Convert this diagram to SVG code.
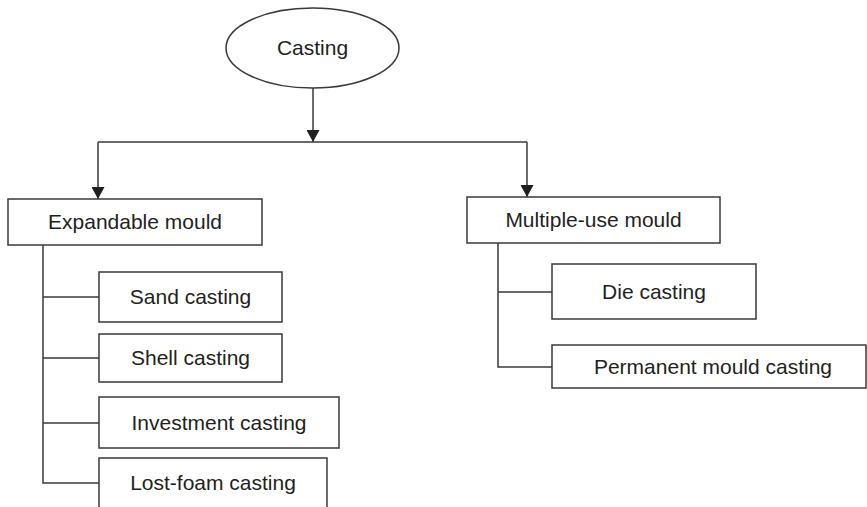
<svg xmlns="http://www.w3.org/2000/svg" width="867" height="507" viewBox="0 0 867 507">
<defs>
<marker id="arr" viewBox="0 0 12 13" refX="12" refY="6.5" markerWidth="12" markerHeight="13" markerUnits="userSpaceOnUse" orient="auto">
<path d="M0,0 L12,6.5 L0,13 Z" fill="#231f20"/>
</marker>
<style>
.box{fill:#fff;stroke:#3a3a3a;stroke-width:1.5}
.ln{fill:none;stroke:#3a3a3a;stroke-width:1.5}
.t{font-family:"Liberation Sans",Arial,sans-serif;font-size:21px;fill:#231f20;text-anchor:middle}
</style>
</defs>
<rect width="867" height="507" fill="#fff"/>
<g id="connectors">
<path class="ln" d="M313,88 V142" marker-end="url(#arr)"/>
<path class="ln" d="M98,142 H527"/>
<path class="ln" d="M98,142 V199" marker-end="url(#arr)"/>
<path class="ln" d="M527,142 V197" marker-end="url(#arr)"/>
<path class="ln" d="M43,245 V483 H99"/>
<path class="ln" d="M43,297 H99 M43,358 H99 M43,423 H99"/>
<path class="ln" d="M498,243 V367 H552 M498,292 H552"/>
</g>
<g id="casting">
<ellipse class="box" cx="312.5" cy="48" rx="86.5" ry="40"/>
<text class="t" x="312.5" y="55">Casting</text>
</g>
<g id="expandable">
<rect class="box" x="8" y="199" width="254" height="46"/>
<text class="t" x="135" y="229">Expandable mould</text>
</g>
<g id="sand">
<rect class="box" x="99" y="272" width="183" height="50"/>
<text class="t" x="190.5" y="304">Sand casting</text>
</g>
<g id="shell">
<rect class="box" x="99" y="334" width="183" height="48"/>
<text class="t" x="190.5" y="365">Shell casting</text>
</g>
<g id="investment">
<rect class="box" x="99" y="397" width="240" height="51"/>
<text class="t" x="219" y="430">Investment casting</text>
</g>
<g id="lostfoam">
<rect class="box" x="99" y="458" width="228" height="60"/>
<text class="t" x="213" y="490">Lost-foam casting</text>
</g>
<g id="multiple">
<rect class="box" x="467" y="197" width="253" height="46"/>
<text class="t" x="593.5" y="227">Multiple-use mould</text>
</g>
<g id="die">
<rect class="box" x="552" y="264" width="204" height="55"/>
<text class="t" x="654" y="299">Die casting</text>
</g>
<g id="permanent">
<rect class="box" x="552" y="345" width="314" height="43"/>
<text class="t" x="713" y="374">Permanent mould casting</text>
</g>
</svg>
